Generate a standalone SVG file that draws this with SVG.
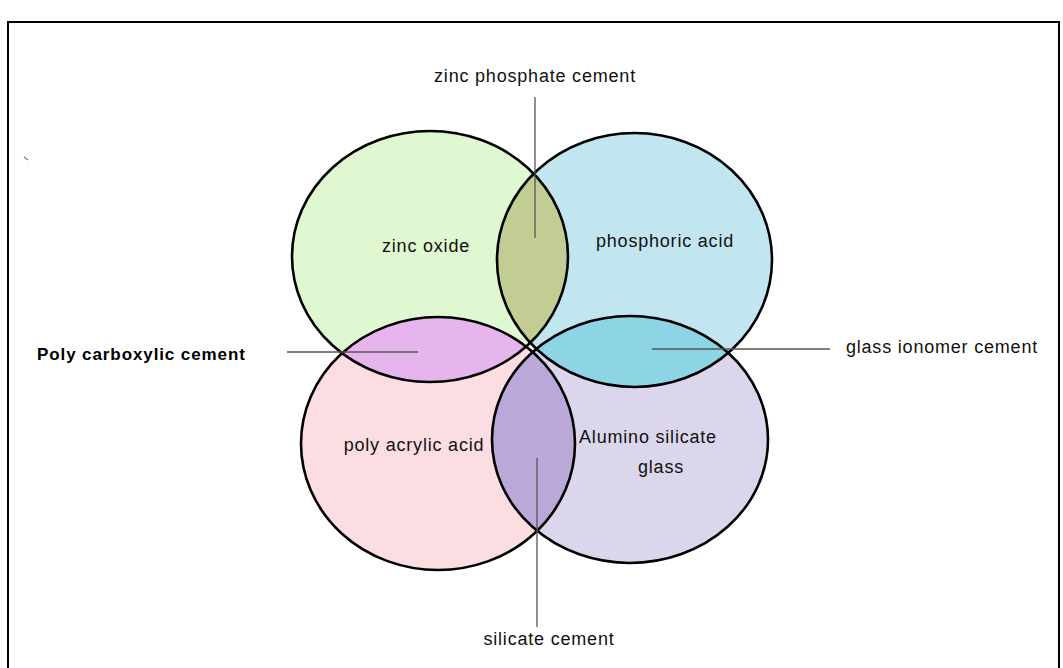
<svg xmlns="http://www.w3.org/2000/svg" width="1063" height="668" viewBox="0 0 1063 668">
<style>
.lbl{font-family:"Liberation Sans",Arial,sans-serif;font-size:18px;letter-spacing:0.8px;fill:#111;text-anchor:middle}
.bold{font-family:"Liberation Sans",Arial,sans-serif;font-size:17px;letter-spacing:0.9px;font-weight:bold;fill:#000;text-anchor:start}
.outline{fill:none;stroke:#000;stroke-width:2.6}
.lead{stroke:#555;stroke-width:1.3;fill:none}
</style>
<defs>
<clipPath id="cGreen"><ellipse cx="430" cy="256.5" rx="138" ry="125.5"/></clipPath>
<clipPath id="cBlue"><ellipse cx="634.5" cy="260" rx="137.5" ry="127"/></clipPath>
<clipPath id="cPink"><ellipse cx="438" cy="443.5" rx="137" ry="126.5"/></clipPath>
<clipPath id="cLav"><ellipse cx="630" cy="439.5" rx="138" ry="123.5"/></clipPath>
</defs>
<rect x="0" y="0" width="1063" height="668" fill="#fff"/>
<rect x="8" y="22" width="1051" height="660" fill="none" stroke="#000" stroke-width="2"/>
<line x1="24" y1="157" x2="28" y2="160" stroke="#777" stroke-width="1.2"/>

<g id="zinc-oxide">
<ellipse cx="430" cy="256.5" rx="138" ry="125.5" fill="#e0f8d2"/>
</g>
<g id="phosphoric-acid">
<ellipse cx="634.5" cy="260" rx="137.5" ry="127" fill="#c2e6f0"/>
</g>
<g id="poly-acrylic-acid">
<ellipse cx="438" cy="443.5" rx="137" ry="126.5" fill="#fcdde2"/>
</g>
<g id="alumino-silicate-glass">
<ellipse cx="630" cy="439.5" rx="138" ry="123.5" fill="#dcd6ec"/>
</g>
<g id="overlaps">
<ellipse clip-path="url(#cGreen)" cx="634.5" cy="260" rx="137.5" ry="127" fill="#c2cd93"/>
<ellipse clip-path="url(#cGreen)" cx="438" cy="443.5" rx="137" ry="126.5" fill="#e6b5ee"/>
<ellipse clip-path="url(#cBlue)" cx="630" cy="439.5" rx="138" ry="123.5" fill="#8dd4e4"/>
<ellipse clip-path="url(#cPink)" cx="630" cy="439.5" rx="138" ry="123.5" fill="#b9a8d8"/>
</g>
<g id="outlines">
<ellipse class="outline" cx="430" cy="256.5" rx="138" ry="125.5"/>
<ellipse class="outline" cx="634.5" cy="260" rx="137.5" ry="127"/>
<ellipse class="outline" cx="438" cy="443.5" rx="137" ry="126.5"/>
<ellipse class="outline" cx="630" cy="439.5" rx="138" ry="123.5"/>
</g>

<g id="connectors">
<line class="lead" x1="535" y1="97" x2="535" y2="238"/>
<line class="lead" x1="287" y1="352" x2="418" y2="352"/>
<line class="lead" x1="652" y1="349" x2="830" y2="349"/>
<line class="lead" x1="537" y1="458" x2="537" y2="627"/>
</g>

<g id="labels">
<text class="lbl" x="535" y="82">zinc phosphate cement</text>
<text class="lbl" x="426" y="252">zinc oxide</text>
<text class="lbl" x="665" y="247">phosphoric acid</text>
<text class="lbl" x="414" y="451">poly acrylic acid</text>
<text class="lbl" x="648" y="443">Alumino silicate</text>
<text class="lbl" x="661" y="473">glass</text>
<text class="lbl" x="942" y="353">glass ionomer cement</text>
<text class="lbl" x="549" y="645">silicate cement</text>
<text class="bold" x="37" y="360">Poly carboxylic cement</text>
</g>
</svg>
